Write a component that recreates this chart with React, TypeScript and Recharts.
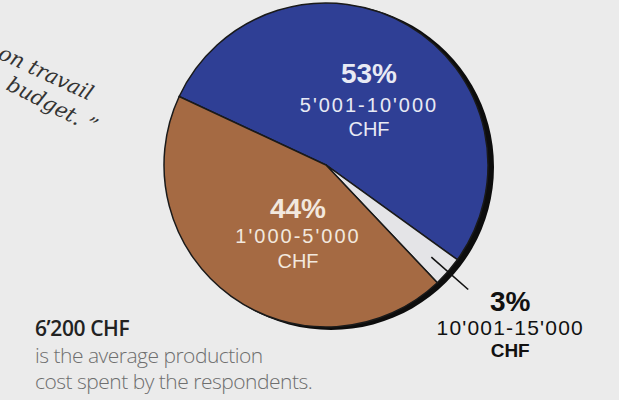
import { PieChart, Pie, Cell } from "recharts"

// slices, clockwise from the blue / brown border
const categories = ["5'001-10'000", "10'001-15'000", "1'000-5'000"]
const shares = [53, 3, 44]
const currency = "CHF"

const sliceColors = ["#2f3f95", "#e4e4e7", "#a56a43"]

// where each label block sits, relative to the pie centre
const labelOffsets = [
  { dx: 43, dy: -82, gap1: 29, gap2: 53, color: "#e8eaf4", outside: false },
  { dx: 0, dy: 0, gap1: 0, gap2: 0, color: "#111111", outside: true },
  { dx: -28, dy: 53, gap1: 25, gap2: 50, color: "#f2e8de", outside: false },
]

const data = categories.map((name, i) => ({ name, value: shares[i] }))
const shadow = [{ name: "shadow", value: 1 }]

const RAD = Math.PI / 180
const sans = "'Liberation Sans', Arial, sans-serif"

function SliceLabel(props: any) {
  const { cx, cy, midAngle, outerRadius, index } = props
  const o = labelOffsets[index]
  const name = categories[index]
  const pct = `${shares[index]}%`

  if (o.outside) {
    const cos = Math.cos(-midAngle * RAD)
    const sin = Math.sin(-midAngle * RAD)
    const x1 = cx + (outerRadius - 22) * cos
    const y1 = cy + (outerRadius - 22) * sin
    const x2 = cx + (outerRadius + 27) * cos
    const y2 = cy + (outerRadius + 27) * sin
    const tx = x2 + 42
    return (
      <g>
        <line x1={x1} y1={y1} x2={x2} y2={y2} stroke="#111" strokeWidth={1.6} />
        <text x={tx} y={y2 + 22} textAnchor="middle" fontFamily={sans} fontWeight={700} fontSize={28} fill={o.color}>
          {pct}
        </text>
        <text x={tx} y={y2 + 46} textAnchor="middle" fontFamily={sans} fontSize={21} letterSpacing={1.2} fill={o.color}>
          {name}
        </text>
        <text x={tx} y={y2 + 68} textAnchor="middle" fontFamily={sans} fontWeight={700} fontSize={19} fill={o.color}>
          {currency}
        </text>
      </g>
    )
  }

  const x = cx + o.dx
  const y = cy + o.dy
  return (
    <g>
      <text x={x} y={y} textAnchor="middle" fontFamily={sans} fontWeight={700} fontSize={28} fill={o.color}>
        {pct}
      </text>
      <text x={x} y={y + o.gap1} textAnchor="middle" fontFamily={sans} fontSize={20} letterSpacing={2} fill={o.color}>
        {name}
      </text>
      <text x={x} y={y + o.gap2} textAnchor="middle" fontFamily={sans} fontSize={20} fill={o.color}>
        {currency}
      </text>
    </g>
  )
}

export default function App() {
  return (
    <div
      style={{
        position: "absolute",
        left: 0,
        top: 0,
        width: 619,
        height: 400,
        background: "#ebebeb",
        overflow: "hidden",
      }}
    >
      <PieChart width={619} height={400} margin={{ top: 0, right: 0, bottom: 0, left: 0 }}>
        {/* dark edge on the right side of the disc */}
        <Pie
          data={shadow}
          dataKey="value"
          cx={331}
          cy={167}
          outerRadius={163}
          startAngle={90}
          endAngle={-270}
          fill="#0d0d0d"
          stroke="none"
          isAnimationActive={false}
        />
        <Pie
          data={data}
          dataKey="value"
          cx={326}
          cy={165}
          outerRadius={162}
          startAngle={155}
          endAngle={-205}
          stroke="#1a1a1a"
          strokeWidth={1.5}
          label={SliceLabel}
          labelLine={false}
          isAnimationActive={false}
        >
          {data.map((d, i) => (
            <Cell key={d.name} fill={sliceColors[i]} />
          ))}
        </Pie>
      </PieChart>

      <svg
        width={619}
        height={400}
        style={{ position: "absolute", left: 0, top: 0, pointerEvents: "none" }}
      >
        <g fontFamily="'DejaVu Serif', serif" fontStyle="italic" fontSize={21} fill="#333">
          <text x={-3} y={58} transform="rotate(25 -3 58)">on travail</text>
          <text x={5} y={89} transform="rotate(27 5 89)">budget. ”</text>
        </g>
        <text x={35} y={336} fontFamily="'Open Sans', sans-serif" fontWeight={600} fontSize={21} fill="#222" letterSpacing={-0.4}>
          6’200 CHF
        </text>
        <text x={35} y={363} fontFamily="'Open Sans', sans-serif" fontWeight={300} fontSize={21} fill="#6e6e6e" letterSpacing={-0.5}>
          is the average production
        </text>
        <text x={35} y={389} fontFamily="'Open Sans', sans-serif" fontWeight={300} fontSize={21} fill="#6e6e6e" letterSpacing={-0.5}>
          cost spent by the respondents.
        </text>
      </svg>
    </div>
  )
}
